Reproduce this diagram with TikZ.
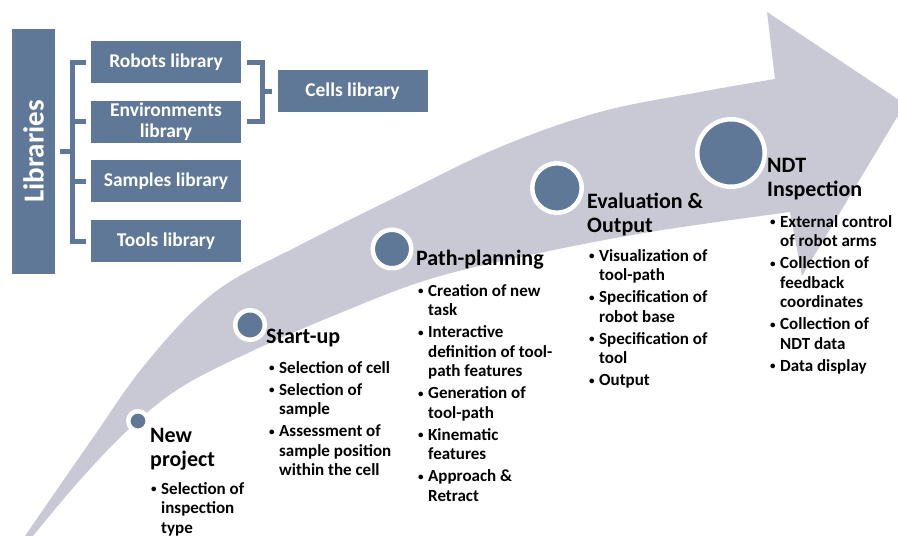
\documentclass[tikz,border=0pt]{standalone}
\usepackage{fontspec}
\setmainfont{Carlito}
\usetikzlibrary{positioning}

\definecolor{slate}{RGB}{95,120,151}
\definecolor{arrowgray}{RGB}{201,201,214}

\newcommand{\bul}{\raisebox{1.5pt}{\fontsize{11}{11}\selectfont\textbullet}}
\newcommand{\headfont}{\fontsize{22}{24}\selectfont\bfseries}
\newcommand{\itemfont}{\fontsize{17}{19.5}\selectfont\bfseries}
\newcommand{\gap}{\\[2.5pt]}

\tikzset{
  libbox/.style={fill=slate, text=white, minimum width=150pt, minimum height=42pt,
    align=center, inner sep=0pt, font=\fontsize{19.5}{21}\selectfont\bfseries},
  brace line/.style={draw=slate, line width=5pt},
  stage dot/.style={circle, fill=slate, draw=white, line width=4.5pt, inner sep=0pt},
  stage head/.style={anchor=base west, inner sep=0pt, font=\headfont},
  stage list/.style={anchor=base west, inner sep=0pt, font=\itemfont},
}

\begin{document}
\begin{tikzpicture}[x=1pt,y=-1pt]
\useasboundingbox (0,0) rectangle (898,536);
\clip (0,0) rectangle (898,536);

% the big curved arrow
\fill[arrowgray] plot[smooth, tension=0.6] coordinates {(25,536) (90,442) (147,362) (215,292) (300,245) (400,195) (500,147) (600,112) (700,92) (775,79)}
  -- (767,12) -- (905,104) -- (802,276) -- (790,212)
  -- plot[smooth, tension=0.6] coordinates {(790,212) (650,232) (530,255) (430,279) (340,313) (250,352) (180,388) (130,428) (80,480) (33,536)} -- cycle;

% stages
\node[stage dot, minimum size=19.5pt] (np) at (138,421) {};
\node[stage dot, minimum size=29.5pt] (su) at (250,325) {};
\node[stage dot, minimum size=38.5pt] (pp) at (392,249) {};
\node[stage dot, minimum size=49.5pt] (eo) at (557,188) {};
\node[stage dot, minimum size=67.5pt] (ndt) at (731,153) {};

\node[stage head] (nphead) at (150,442) {\begin{tabular}[t]{@{}l@{}}New\\project\end{tabular}};
\node[stage list] (nplist) at (151,494) {\begin{tabular}[t]{@{}l@{\hspace{4.5pt}}l@{}}
  \bul & Selection of\\ & inspection\\ & type\end{tabular}};

\node[stage head] (suhead) at (266,343) {Start-up};
\node[stage list] (sulist) at (269,373) {\begin{tabular}[t]{@{}l@{\hspace{4.5pt}}l@{}}
  \bul & Selection of cell\gap
  \bul & Selection of\\ & sample\gap
  \bul & Assessment of\\ & sample position\\ & within the cell\end{tabular}};

\node[stage head] (pphead) at (416,265) {Path-planning};
\node[stage list] (pplist) at (418,296) {\begin{tabular}[t]{@{}l@{\hspace{4.5pt}}l@{}}
  \bul & Creation of new\\ & task\gap
  \bul & Interactive\\ & definition of tool-\\ & path features\gap
  \bul & Generation of\\ & tool-path\gap
  \bul & Kinematic\\ & features\gap
  \bul & Approach \&\\ & Retract\end{tabular}};

\node[stage head] (eohead) at (587,208) {\begin{tabular}[t]{@{}l@{}}Evaluation \&\\Output\end{tabular}};
\node[stage list] (eolist) at (589,261) {\begin{tabular}[t]{@{}l@{\hspace{4.5pt}}l@{}}
  \bul & Visualization of\\ & tool-path\gap
  \bul & Specification of\\ & robot base\gap
  \bul & Specification of\\ & tool\gap
  \bul & Output\end{tabular}};

\node[stage head] (ndthead) at (767,172) {\begin{tabular}[t]{@{}l@{}}NDT\\Inspection\end{tabular}};
\node[stage list] (ndtlist) at (770,227) {\begin{tabular}[t]{@{}l@{\hspace{4.5pt}}l@{}}
  \bul & External control\\ & of robot arms\gap
  \bul & Collection of\\ & feedback\\ & coordinates\gap
  \bul & Collection of\\ & NDT data\gap
  \bul & Data display\end{tabular}};

% libraries
\node[libbox, minimum width=245pt, minimum height=43pt, rotate=90,
  font=\fontsize{29}{30}\selectfont\bfseries] (libs) at (33.5,151.5) {Libraries};
\node[libbox] (rob) at (166,62) {Robots library};
\node[libbox] (env) at (166,121.5) {Environments\\library};
\node[libbox] (smp) at (166,181) {Samples library};
\node[libbox] (tls) at (166,241) {Tools library};
\node[libbox] (cells) at (352.5,91) {Cells library};

\draw[brace line] ([xshift=-5pt]rob.west) -- ++(-13,0) |- ([xshift=-5pt]tls.west);
\draw[brace line] ([xshift=-5pt]env.west) -- ++(-13,0);
\draw[brace line] ([xshift=-5pt]smp.west) -- ++(-13,0);
\draw[brace line] ([xshift=5pt]libs.south) -- ++(13,0);
\draw[brace line] ([xshift=6pt]rob.east) -- ++(15,0) |- ([xshift=6pt]env.east);
\draw[brace line] ([xshift=-5pt]cells.west) -- ++(-10,0);
\end{tikzpicture}
\end{document}
